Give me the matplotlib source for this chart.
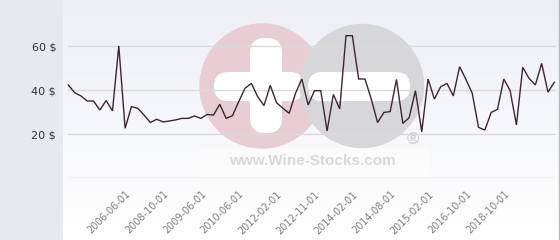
import numpy as np
import matplotlib
matplotlib.use("Agg")
import matplotlib.pyplot as plt
from matplotlib.patches import Rectangle, Circle, FancyBboxPatch

# ---- data ----
prices = [42.3, 38.8, 37.3, 35.0, 35.0, 30.9, 35.2, 30.5, 60.0, 22.6,
          32.4, 31.7, 28.6, 25.2, 26.7, 25.5, 25.9, 26.4, 27.1, 27.1,
          28.2, 27.1, 28.9, 28.6, 33.5, 27.1, 28.3, 34.7, 40.8, 43.0,
          37.0, 32.9, 42.1, 34.2, 31.7, 29.4, 38.5, 45.0, 33.2, 39.7,
          39.7, 21.4, 38.0, 31.4, 64.7, 64.7, 45.0, 45.0, 35.9, 25.2,
          29.8, 30.2, 44.8, 24.8, 27.4, 39.7, 21.0, 45.0, 35.9, 41.5,
          43.0, 37.3, 50.6, 44.8, 38.5, 23.0, 21.8, 29.8, 31.2, 45.0,
          39.7, 24.1, 50.3, 45.3, 42.3, 52.1, 39.0, 43.5]
tick_labels = ["2006-06-01", "2008-10-01", "2009-06-01", "2010-06-01",
               "2012-02-01", "2012-11-01", "2014-02-01", "2014-08-01",
               "2015-02-01", "2016-10-01", "2018-10-01"]
y_ticks = [20, 40, 60]
y_tick_labels = ["20 $", "40 $", "60 $"]
grid_values = [0, 20, 40, 60]

W, H = 560, 240
fig = plt.figure(figsize=(W / 100, H / 100), dpi=100)

# ---- background / decoration layer (pixel coords) ----
bg = fig.add_axes([0, 0, 1, 1])
bg.set_xlim(0, W)
bg.set_ylim(H, 0)
bg.axis("off")
bg.add_patch(Rectangle((0, 0), 63, H, color="#e6e9ed", zorder=0))
grad = np.linspace(0, 1, 256)[:, None]
top = np.array([0.93, 0.937, 0.96])
bot = np.array([1.0, 1.0, 1.0])
img = top[None, None, :] * (1 - grad[..., None]) + bot[None, None, :] * grad[..., None]
bg.imshow(img, extent=(63, 559, H, 0), aspect="auto", zorder=0.5, interpolation="bilinear")
bg.add_patch(Rectangle((558.5, 0), 1.5, H, color="#b8b8b8", zorder=1))

# watermark
bg.add_patch(Rectangle((200, 148), 228, 28, color="white", alpha=0.45, zorder=1))
bg.add_patch(Circle((262, 86), 62, color="#e9cdd4", zorder=1))
bg.add_patch(Circle((362, 86), 61.5, color="#d7d7d9", zorder=1.2))
bg.add_patch(FancyBboxPatch((250 + 15, 38 + 15), 2, 95 - 30,
                            boxstyle="round,pad=15", color="white", zorder=1.1, lw=0))
bg.add_patch(FancyBboxPatch((214 + 14.5, 72 + 14.5), 90 - 29, 0.1,
                            boxstyle="round,pad=14.5", color="white", zorder=1.1, lw=0))
bg.add_patch(FancyBboxPatch((308 + 14.5, 72 + 14.5), 102 - 29, 0.1,
                            boxstyle="round,pad=14.5", color="white", zorder=1.3, lw=0))
bg.text(312, 161, "www.Wine-Stocks.com", ha="center", va="center",
        fontsize=11, fontweight="bold", family="Liberation Sans",
        color="#d9d9d9", zorder=1.4)
bg.text(413, 139, "®", ha="center", va="center", fontsize=12,
        family="Liberation Sans", fontweight="bold", color="#d0d0d0", zorder=1.4)

# ---- data axes ----
left, right, axtop, axbot = 63, 558, 0, 178
ax = fig.add_axes([left / W, 1 - axbot / H, (right - left) / W, (axbot - axtop) / H])
ax.set_facecolor("none")
x = np.arange(len(prices))
px_per = (554.3 - 68.3) / (len(prices) - 1)
ax.set_xlim(-(68.3 - left) / px_per, (len(prices) - 1) + (right - 554.3) / px_per)
ax.set_ylim(0, 178 / 2.2)

for gv in grid_values:
    ax.axhline(gv, xmin=(68 - left) / (right - left), xmax=(555 - left) / (right - left),
               color="#dadada", lw=1.0, zorder=1)

ax.plot(x, prices, color="#3b2731", lw=1.0, zorder=3, solid_joinstyle="miter")

for s in ax.spines.values():
    s.set_visible(False)
ax.set_yticks(y_ticks, y_tick_labels)
ax.tick_params(axis="y", length=0, pad=5, labelsize=8, labelcolor="#333333")
ax.set_xticks(range(9, 9 + 6 * len(tick_labels), 6), tick_labels)
ax.tick_params(axis="x", length=0, pad=8, labelsize=7, labelcolor="#808080")
for lab in ax.get_xticklabels():
    lab.set_rotation(45)
    lab.set_ha("right")
    lab.set_va("top")
    lab.set_rotation_mode("anchor")

fig.savefig("out.png", dpi=100)
